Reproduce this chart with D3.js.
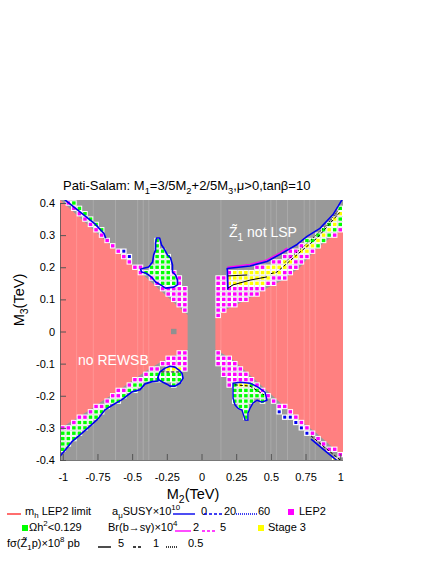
<!DOCTYPE html>
<html>
<head>
<meta charset="utf-8">
<script src="https://cdn.jsdelivr.net/npm/d3@7"></script>
<style>
body { margin: 0; background: #fff; }
svg { display: block; }
text { font-family: "Liberation Sans", Arial, Helvetica, sans-serif; }
</style>
</head>
<body>
<svg width="436" height="564"></svg>
<script>
var m2Ticks = [-1, -0.75, -0.5, -0.25, 0, 0.25, 0.5, 0.75, 1];
var m2Labels = ["-1", "-0.75", "-0.5", "-0.25", "0", "0.25", "0.5", "0.75", "1"];
var m3Ticks = [-0.4, -0.3, -0.2, -0.1, 0, 0.1, 0.2, 0.3, 0.4];
var m3Labels = ["-0.4", "-0.3", "-0.2", "-0.1", "0", "0.1", "0.2", "0.3", "0.4"];

// no REWSB wedges [M2, M3]
var noEwsbLeft = [[-1.03, 0.414], [-0.1, 0.051], [-0.1, -0.056], [-0.29, -0.094], [-0.39, -0.12],
  [-0.48, -0.147], [-0.62, -0.19], [-0.72, -0.218], [-0.82, -0.248], [-0.91, -0.272], [-1.03, -0.305]];
var noEwsbRight = [[0.1, 0.052], [0.33, 0.1], [0.47, 0.135], [0.59, 0.16], [0.71, 0.2], [0.83, 0.258],
  [0.95, 0.298], [1.03, 0.322], [1.03, -0.395], [0.95, -0.363], [0.83, -0.317], [0.71, -0.276],
  [0.59, -0.23], [0.47, -0.183], [0.35, -0.136], [0.23, -0.089], [0.1, -0.056]];

// allowed zones, LEP2 excluded (magenta points)
var lep2TL = [[-1.03, 0.413], [-0.1, 0.050], [-0.1, 0.068], [-1.03, 0.431]];
var lep2TLBlock = [[-0.33, 0.16], [-0.25, 0.185], [-0.17, 0.19], [-0.13, 0.155], [-0.1, 0.115], [-0.1, 0.05], [-0.33, 0.14]];
var lep2BL = [[-1.03, -0.304], [-0.91, -0.271], [-0.82, -0.247], [-0.72, -0.217], [-0.62, -0.189], [-0.48, -0.146],
  [-0.39, -0.119], [-0.29, -0.093], [-0.1, -0.055], [-0.1, -0.0726], [-0.29, -0.1106], [-0.39, -0.1366],
  [-0.48, -0.1636], [-0.62, -0.2066], [-0.72, -0.2346], [-0.82, -0.2646], [-0.91, -0.2886], [-1.03, -0.3216]];
var lep2BLBlock = [[-0.3, -0.092], [-0.1, -0.054], [-0.1, -0.135], [-0.2, -0.105], [-0.3, -0.11]];
var lep2TR = [[0.1, 0.045], [0.1, 0.172], [0.165, 0.172], [0.165, 0.188], [0.35, 0.196], [0.472, 0.21],
  [0.566, 0.232], [0.689, 0.263], [0.761, 0.288], [0.854, 0.313], [0.948, 0.356], [1.03, 0.41],
  [1.03, 0.321], [0.95, 0.297], [0.83, 0.257], [0.71, 0.199], [0.59, 0.159], [0.47, 0.134], [0.33, 0.099]];
var lep2BR = [[0.1, -0.055], [0.23, -0.088], [0.35, -0.135], [0.47, -0.182], [0.59, -0.229], [0.71, -0.275],
  [0.83, -0.316], [0.95, -0.362], [1.03, -0.394], [1.03, -0.4106], [0.95, -0.3786], [0.83, -0.3326],
  [0.71, -0.2916], [0.59, -0.2456], [0.48, -0.203], [0.44, -0.21], [0.3, -0.22], [0.22, -0.21],
  [0.22, -0.175], [0.18, -0.175], [0.18, -0.14], [0.14, -0.14], [0.14, -0.108], [0.1, -0.108]];

// relic density OK (green points)
var relicTL = [[-1.03, 0.4305], [-0.68, 0.294], [-0.68, 0.3094], [-1.03, 0.4465]];
var clusterTL = [[-0.324, 0.291], [-0.302, 0.291], [-0.288, 0.269], [-0.273, 0.26], [-0.245, 0.238],
  [-0.223, 0.229], [-0.209, 0.207], [-0.209, 0.185], [-0.187, 0.176], [-0.173, 0.16], [-0.173, 0.145],
  [-0.201, 0.138], [-0.259, 0.135], [-0.295, 0.145], [-0.331, 0.154], [-0.353, 0.166], [-0.381, 0.176],
  [-0.403, 0.182], [-0.432, 0.185], [-0.439, 0.194], [-0.417, 0.197], [-0.381, 0.201], [-0.353, 0.216],
  [-0.345, 0.238], [-0.331, 0.254], [-0.331, 0.275]];
var relicBL = [[-1.03, -0.3216], [-0.91, -0.2886], [-0.82, -0.2646], [-0.72, -0.2346], [-0.62, -0.2066],
  [-0.48, -0.1636], [-0.39, -0.1366], [-0.3, -0.113], [-0.3, -0.155], [-0.357, -0.156], [-0.407, -0.163],
  [-0.443, -0.181], [-0.501, -0.188], [-0.573, -0.212], [-0.638, -0.228], [-0.696, -0.244],
  [-0.746, -0.272], [-0.818, -0.3], [-0.876, -0.322], [-0.934, -0.343], [-1.03, -0.393]];
var ovalBL = [[-0.314, -0.142], [-0.299, -0.126], [-0.263, -0.114], [-0.227, -0.108], [-0.191, -0.111],
  [-0.162, -0.12], [-0.141, -0.13], [-0.133, -0.145], [-0.155, -0.161], [-0.191, -0.17], [-0.227, -0.17],
  [-0.249, -0.164], [-0.278, -0.158], [-0.306, -0.151]];
var relicTR = [[0.74, 0.28], [0.854, 0.313], [0.948, 0.356], [1.03, 0.41], [1.03, 0.33], [0.95, 0.305],
  [0.85, 0.27], [0.74, 0.23]];
var clusterBR = [[0.227, -0.161], [0.278, -0.158], [0.35, -0.161], [0.407, -0.173], [0.458, -0.189],
  [0.472, -0.214], [0.436, -0.22], [0.4, -0.214], [0.371, -0.223], [0.35, -0.239], [0.335, -0.254],
  [0.335, -0.276], [0.314, -0.276], [0.299, -0.254], [0.292, -0.245], [0.263, -0.239], [0.242, -0.229],
  [0.227, -0.207], [0.227, -0.183]];

// stage 3 (yellow points)
var stage3BL = [[-0.27, -0.108], [-0.16, -0.108], [-0.145, -0.126], [-0.29, -0.126]];
var stage3TR = [[0.19, 0.183], [0.35, 0.188], [0.47, 0.2], [0.56, 0.215], [0.65, 0.235], [0.75, 0.265],
  [0.85, 0.3], [0.95, 0.345], [1.03, 0.395], [1.03, 0.375], [0.95, 0.325], [0.85, 0.28], [0.75, 0.245],
  [0.65, 0.213], [0.56, 0.18], [0.47, 0.155], [0.35, 0.135], [0.19, 0.14]];
var stage3BR = [[0.26, -0.16], [0.34, -0.16], [0.34, -0.175], [0.26, -0.175]];
var stage3BRTail = [[0.93, -0.39], [0.97, -0.39], [0.97, -0.41], [0.93, -0.41]];

// single points inside tiny a_mu contours
var amuCells = [[-0.56, 0.25], [-0.52, 0.2333], [0.56, -0.25], [0.6, -0.2667], [0.64, -0.2667],
  [0.68, -0.2833], [0.72, -0.3], [0.76, -0.3167]];
var oddCells = [[-0.2, 0]];

// contour lines
var amuLineTL = [[-0.985, 0.41], [-0.912, 0.385], [-0.84, 0.36], [-0.768, 0.335], [-0.703, 0.305], [-0.69, 0.29]];
var amuLineBL = [[-1.03, -0.393], [-1.006, -0.381], [-0.934, -0.343], [-0.876, -0.322], [-0.818, -0.3],
  [-0.746, -0.272], [-0.696, -0.244], [-0.638, -0.228], [-0.573, -0.212], [-0.501, -0.188],
  [-0.443, -0.181], [-0.407, -0.163], [-0.357, -0.156], [-0.314, -0.154], [-0.314, -0.142]];
var amuLineTR = [[0.19, 0.13], [0.185, 0.196], [0.35, 0.204], [0.472, 0.218], [0.566, 0.24], [0.689, 0.271],
  [0.761, 0.296], [0.854, 0.321], [0.948, 0.364], [1.02, 0.415]];
var amuLineBR = [[0.79, -0.335], [0.9, -0.375], [1.0, -0.41]];
var bsgLineTR = [[0.19, 0.13], [0.19, 0.2], [0.35, 0.209], [0.472, 0.223], [0.566, 0.245], [0.62, 0.26]];
var sigLineTR = [[0.19, 0.135], [0.227, 0.145], [0.35, 0.16], [0.472, 0.17]];
var sigLineTR2 = [[0.19, 0.173], [0.33, 0.176]];
var sigDashTR = [[0.5, 0.18], [0.544, 0.185], [0.71, 0.247], [0.833, 0.291], [0.999, 0.372]];
var sigDotTR = [[0.6, 0.215], [0.75, 0.27], [0.9, 0.33], [1.0, 0.385]];
var sigDashBL = [[-0.29, -0.126], [-0.15, -0.126]];
var sigDashBR = [[0.24, -0.166], [0.35, -0.17], [0.45, -0.197]];
var sigDashBRTail = [[0.79, -0.325], [0.9, -0.365], [1.0, -0.4]];

// light vertical streaks in the raster
var seams = [-0.9, -0.78, -0.62, -0.46, -0.42, -0.38, 0.14, 0.46, 0.5, 0.54, 0.62, 0.74, 0.78, 0.82];

var stage3Zones = [stage3BL, stage3TR, stage3BR, stage3BRTail];
var relicZones = [relicTL, clusterTL, relicBL, ovalBL, relicTR, clusterBR];
var lep2Zones = [lep2TL, lep2TLBlock, lep2BL, lep2BLBlock, lep2TR, lep2BR];

var svg = d3.select("svg");
var x = d3.scaleLinear().domain([-1.02, 1.02]).range([60, 343]);
var y = d3.scaleLinear().domain([-0.4, 0.4]).range([460, 203]);
var frameTop = 200;

var GRAY = "#999999", RED = "#ff8080", MAG = "#ff00ff", GRN = "#00ff00", YEL = "#ffff00", BLUE = "#0000ee";

svg.append("defs").append("clipPath").attr("id", "frame")
  .append("rect").attr("x", 60).attr("y", frameTop).attr("width", 283).attr("height", 460 - frameTop);

var plot = svg.append("g").attr("clip-path", "url(#frame)");
plot.append("rect").attr("x", 60).attr("y", frameTop).attr("width", 283).attr("height", 460 - frameTop).attr("fill", GRAY);

var area = d3.line().x(function(d) { return x(d[0]); }).y(function(d) { return y(d[1]); }).curve(d3.curveLinearClosed);
var line = d3.line().x(function(d) { return x(d[0]); }).y(function(d) { return y(d[1]); });

plot.selectAll("path.noewsb").data([noEwsbLeft, noEwsbRight]).enter().append("path")
  .attr("d", area).attr("fill", RED);

plot.selectAll("line.seam").data(seams).enter().append("line")
  .attr("x1", function(d) { return x(d); }).attr("x2", function(d) { return x(d); })
  .attr("y1", frameTop).attr("y2", 460)
  .attr("stroke", "#fff").attr("stroke-opacity", 0.16).attr("stroke-width", 1);

// scan grid of the parameter scan
var m2Grid = d3.range(51).map(function(i) { return -1 + 0.04 * i; });
var m3Grid = d3.range(49).map(function(j) { return -0.4 + j * 0.8 / 48; });
var cw = x(0.04) - x(0), ch = y(0) - y(0.8 / 48);

function inside(zones, p) {
  return zones.some(function(z) { return d3.polygonContains(z, p); });
}
var cells = [];
m2Grid.forEach(function(a) {
  m3Grid.forEach(function(b) {
    var p = [a, b], c = null;
    if (inside(stage3Zones, p)) c = YEL;
    else if (inside(relicZones, p)) c = GRN;
    else if (inside(lep2Zones, p)) c = MAG;
    if (c) cells.push({m2: a, m3: b, c: c});
  });
});

plot.selectAll("rect.odd").data(oddCells).enter().append("rect")
  .attr("x", function(d) { return x(d[0]) - cw / 2; }).attr("y", function(d) { return y(d[1]) - ch / 2; })
  .attr("width", cw).attr("height", ch).attr("fill", "#909090");

var cg = plot.append("g");
cg.selectAll("rect.bg").data(cells).enter().append("rect")
  .attr("x", function(d) { return x(d.m2) - cw / 2; }).attr("y", function(d) { return y(d.m3) - ch / 2; })
  .attr("width", cw).attr("height", ch).attr("fill", "#fff");
cg.selectAll("rect.dot").data(cells).enter().append("rect")
  .attr("x", function(d) { return x(d.m2) - cw / 2 + 1; }).attr("y", function(d) { return y(d.m3) - ch / 2 + 1; })
  .attr("width", cw - 2).attr("height", ch - 2).attr("fill", function(d) { return d.c; });

cg.selectAll("rect.amubg").data(amuCells).enter().append("rect")
  .attr("x", function(d) { return x(d[0]) - cw / 2; }).attr("y", function(d) { return y(d[1]) - ch / 2; })
  .attr("width", cw).attr("height", ch).attr("fill", "#fff");
cg.selectAll("rect.amu").data(amuCells).enter().append("rect")
  .attr("x", function(d) { return x(d[0]) - 1.5; }).attr("y", function(d) { return y(d[1]) - 1.5; })
  .attr("width", 3).attr("height", 3).attr("fill", BLUE);

// contours
function draw(data, color, width, dash, closed) {
  plot.append("path").datum(data).attr("d", closed ? area : line)
    .attr("fill", "none").attr("stroke", color).attr("stroke-width", width)
    .attr("stroke-dasharray", dash || null).attr("stroke-linejoin", "round");
}
draw(bsgLineTR, MAG, 1.3);
draw(amuLineTL, BLUE, 1.6);
draw(clusterTL, BLUE, 1.6, null, true);
draw(amuLineBL, BLUE, 1.6);
draw(ovalBL, BLUE, 1.6, null, true);
draw(amuLineTR, BLUE, 1.6);
draw(clusterBR, BLUE, 1.4, null, true);
draw(amuLineBR, BLUE, 1.6);
draw(sigLineTR, "#000", 1);
draw(sigLineTR2, "#000", 1);
draw(sigDashTR, "#000", 1, "3,2");
draw(sigDotTR, "#000", 1, "1,1.5");
draw(sigDashBL, "#000", 1, "3,2");
draw(sigDashBR, "#000", 1, "3,2");
draw(sigDashBRTail, "#000", 1, "3,2");

// axes
var m2Minor = d3.range(-1, 1.0001, 0.05);
var m3Minor = d3.range(-0.4, 0.4001, 0.02);
var fontCss = "'Liberation Sans', Arial, Helvetica, sans-serif";

var xa = svg.append("g").attr("transform", "translate(0,460)");
xa.call(d3.axisBottom(x).tickValues(m2Minor).tickSizeInner(-3).tickSizeOuter(0).tickFormat(""));
xa.call(d3.axisBottom(x).tickValues(m2Ticks).tickSizeInner(-6).tickSizeOuter(0).tickPadding(13)
  .tickFormat(function(d, i) { return m2Labels[i]; }));
var ya = svg.append("g").attr("transform", "translate(60,0)");
ya.call(d3.axisLeft(y).tickValues(m3Minor).tickSizeInner(-3).tickSizeOuter(0).tickFormat(""));
ya.call(d3.axisLeft(y).tickValues(m3Ticks).tickSizeInner(-6).tickSizeOuter(0).tickPadding(5)
  .tickFormat(function(d, i) { return m3Labels[i]; }));
svg.selectAll(".tick line").attr("stroke", "#555");
svg.selectAll(".domain").attr("stroke", "#555").attr("stroke-width", 0.8);
svg.selectAll(".tick text").attr("font-size", 11).attr("font-family", fontCss).attr("fill", "#000");
xa.select(".domain").attr("d", "M60,0.5H343");

function rich(g, px, py, parts, size, anchor) {
  var t = g.append("text").attr("x", px).attr("y", py).attr("font-size", size)
    .attr("text-anchor", anchor || "start");
  var shift = 0;
  parts.forEach(function(p) {
    var want = p[1] === "sub" ? size * 0.28 : p[1] === "sup" ? -size * 0.42 : 0;
    t.append("tspan").attr("dy", want - shift).attr("font-size", p[1] ? size * 0.72 : size).text(p[0]);
    shift = want;
  });
  return t;
}

rich(svg, 63, 190, [["Pati-Salam: M"], ["1", "sub"], ["=3/5M"], ["2", "sub"], ["+2/5M"], ["3", "sub"],
  [",\u03bc>0,tan\u03b2=10"]], 13);
rich(svg, 193, 499, [["M"], ["2", "sub"], ["(TeV)"]], 14.5, "middle");
rich(svg.append("g").attr("transform", "translate(24,300) rotate(-90)"), 0, 0,
  [["M"], ["3", "sub"], ["(TeV)"]], 14.5, "middle");

rich(svg, 229, 237, [["Z\u0303"], ["1", "sub"], [" not LSP"]], 14).attr("fill", "#fff");
rich(svg, 78, 365, [["no REWSB"]], 14).attr("fill", "#fff");

// legend
var lg = svg.append("g");
function lline(x1, x2, yy, color, dash) {
  lg.append("line").attr("x1", x1).attr("x2", x2).attr("y1", yy).attr("y2", yy)
    .attr("stroke", color).attr("stroke-width", 1.4).attr("stroke-dasharray", dash || null);
}
function lbox(bx, by, color) {
  lg.append("rect").attr("x", bx).attr("y", by).attr("width", 6).attr("height", 6).attr("fill", color);
}
var LS = 11;
lline(7, 21, 514, "#ff3030");
rich(lg, 25, 515, [["m"], ["h", "sub"], [" LEP2 limit"]], LS);
rich(lg, 112, 515, [["a"], ["\u03bc", "sub"], ["SUSY\u00d710"], ["10", "sup"]], LS);
lline(173, 195, 514, BLUE);
rich(lg, 201, 515, [["0"]], LS);
lline(204, 222, 514, BLUE, "3,2");
rich(lg, 224, 515, [["20"]], LS);
lline(236, 257, 514, BLUE, "1,1");
rich(lg, 258, 515, [["60"]], LS);
lbox(288, 509, MAG);
rich(lg, 299, 515, [["LEP2"]], LS);

lbox(22, 525, GRN);
rich(lg, 29, 531, [["\u03a9h"], ["2", "sup"], ["<0.129"]], LS);
rich(lg, 108, 531, [["Br(b\u2192s\u03b3)\u00d710"], ["4", "sup"]], LS);
lline(175, 191, 531, MAG);
rich(lg, 193, 531, [["2"]], LS);
lline(202, 217, 531, MAG, "3,2");
rich(lg, 220, 531, [["5"]], LS);
lbox(258, 525, YEL);
rich(lg, 268, 531, [["Stage 3"]], LS);

rich(lg, 7, 547, [["f\u03c3(Z\u0303"], ["1", "sub"], ["p)\u00d710"], ["8", "sup"], [" pb"]], LS);
lline(98, 111, 547, "#000");
rich(lg, 118, 547, [["5"]], LS);
lline(133, 143, 547, "#000", "3,2");
rich(lg, 153, 547, [["1"]], LS);
lline(166, 177, 547, "#000", "1,1");
rich(lg, 188, 547, [["0.5"]], LS);
</script>
</body>
</html>
